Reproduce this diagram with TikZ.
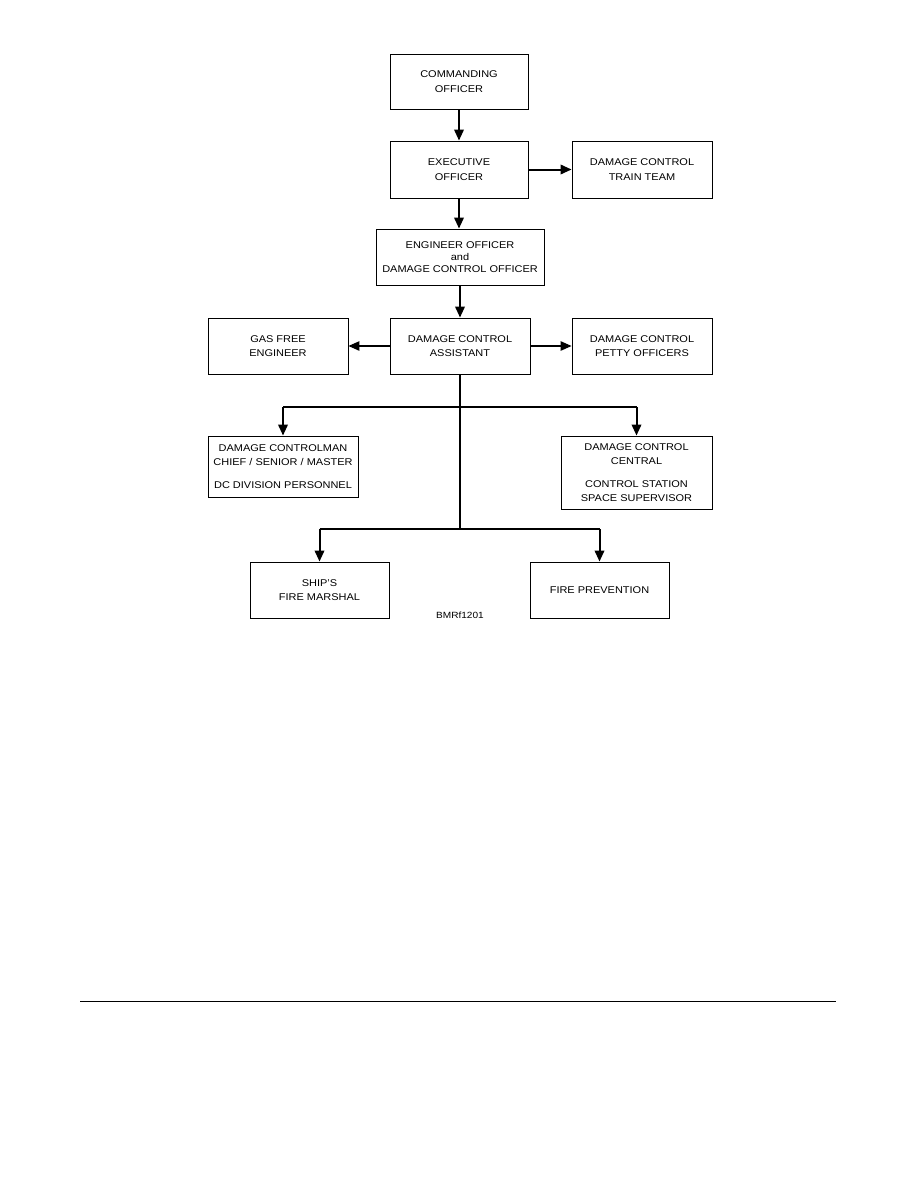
\documentclass[tikz,border=0pt]{standalone}
\usepackage{fontspec}
\setmainfont{Liberation Sans}[FakeStretch=1.12]
\usetikzlibrary{arrows.meta}
\begin{document}
\begin{tikzpicture}[x=1pt,y=-1pt,
  box/.style={draw, line width=0.9pt, align=center, inner sep=0pt,
              font=\fontsize{9.8}{14.5}\selectfont},
  thk/.style={line width=2pt},
  thn/.style={line width=1.1pt},
  tip/.style={-{Triangle[length=11pt,width=9.5pt]}}]
\useasboundingbox (0,0) rectangle (918,1188);

\node[box, minimum width=138pt, minimum height=55pt] (co) at (459,81.5) {COMMANDING\\OFFICER};
\node[box, minimum width=138pt, minimum height=57pt] (xo) at (459,169.5) {EXECUTIVE\\OFFICER};
\node[box, minimum width=140pt, minimum height=57pt] (train) at (642,169.5) {DAMAGE CONTROL\\TRAIN TEAM};
\node[box, minimum width=168pt, minimum height=56pt, font=\fontsize{9.8}{12}\selectfont] (eng) at (460,257) {ENGINEER OFFICER\\and\\DAMAGE CONTROL OFFICER};
\node[box, minimum width=140pt, minimum height=56pt] (gas) at (278,346) {GAS FREE\\ENGINEER};
\node[box, minimum width=140pt, minimum height=56pt] (dca) at (460,346) {DAMAGE CONTROL\\ASSISTANT};
\node[box, minimum width=140pt, minimum height=56pt] (dcpo) at (642,346) {DAMAGE CONTROL\\PETTY OFFICERS};
\node[box, minimum width=150pt, minimum height=61pt] (dcman) at (283,466.5) {DAMAGE CONTROLMAN\\CHIEF / SENIOR / MASTER\\[8pt]DC DIVISION PERSONNEL};
\node[box, minimum width=151pt, minimum height=73pt] (dcc) at (636.5,472.5) {DAMAGE CONTROL\\CENTRAL\\[8pt]CONTROL STATION\\SPACE SUPERVISOR};
\node[box, minimum width=139pt, minimum height=56pt] (ship) at (319.5,590) {SHIP'S\\FIRE MARSHAL};
\node[box, minimum width=139pt, minimum height=56pt] (fire) at (599.5,590) {FIRE PREVENTION};
\node[font=\fontsize{9}{10}\selectfont, inner sep=0pt] (fig) at (460,615) {BMRf1201};

\coordinate (j1) at (460,407);
\coordinate (j2) at (460,529);

\draw[thk,tip] (co.south) -- (xo.north);
\draw[thk,tip] (xo.east) -- (train.west);
\draw[thk,tip] (xo.south) -- (eng.north -| xo.south);
\draw[thk,tip] (eng.south) -- (dca.north);
\draw[thn,tip] (dca.west) -- (gas.east);
\draw[thn,tip] (dca.east) -- (dcpo.west);

\draw[thk] (dca.south) -- (j2);
\draw[thn] (dcman.north |- j1) -- (dcc.north |- j1);
\draw[thk,tip] (dcman.north |- j1) -- (dcman.north);
\draw[thk,tip] (dcc.north |- j1) -- (dcc.north);
\draw[thk] (ship.north |- j2) -- (fire.north |- j2);
\draw[thk,tip] (ship.north |- j2) -- (ship.north);
\draw[thk,tip] (fire.north |- j2) -- (fire.north);

\coordinate (r1) at (80,1001);
\coordinate (r2) at (836,1001);
\draw[line width=1pt] (r1) -- (r2);
\end{tikzpicture}
\end{document}
